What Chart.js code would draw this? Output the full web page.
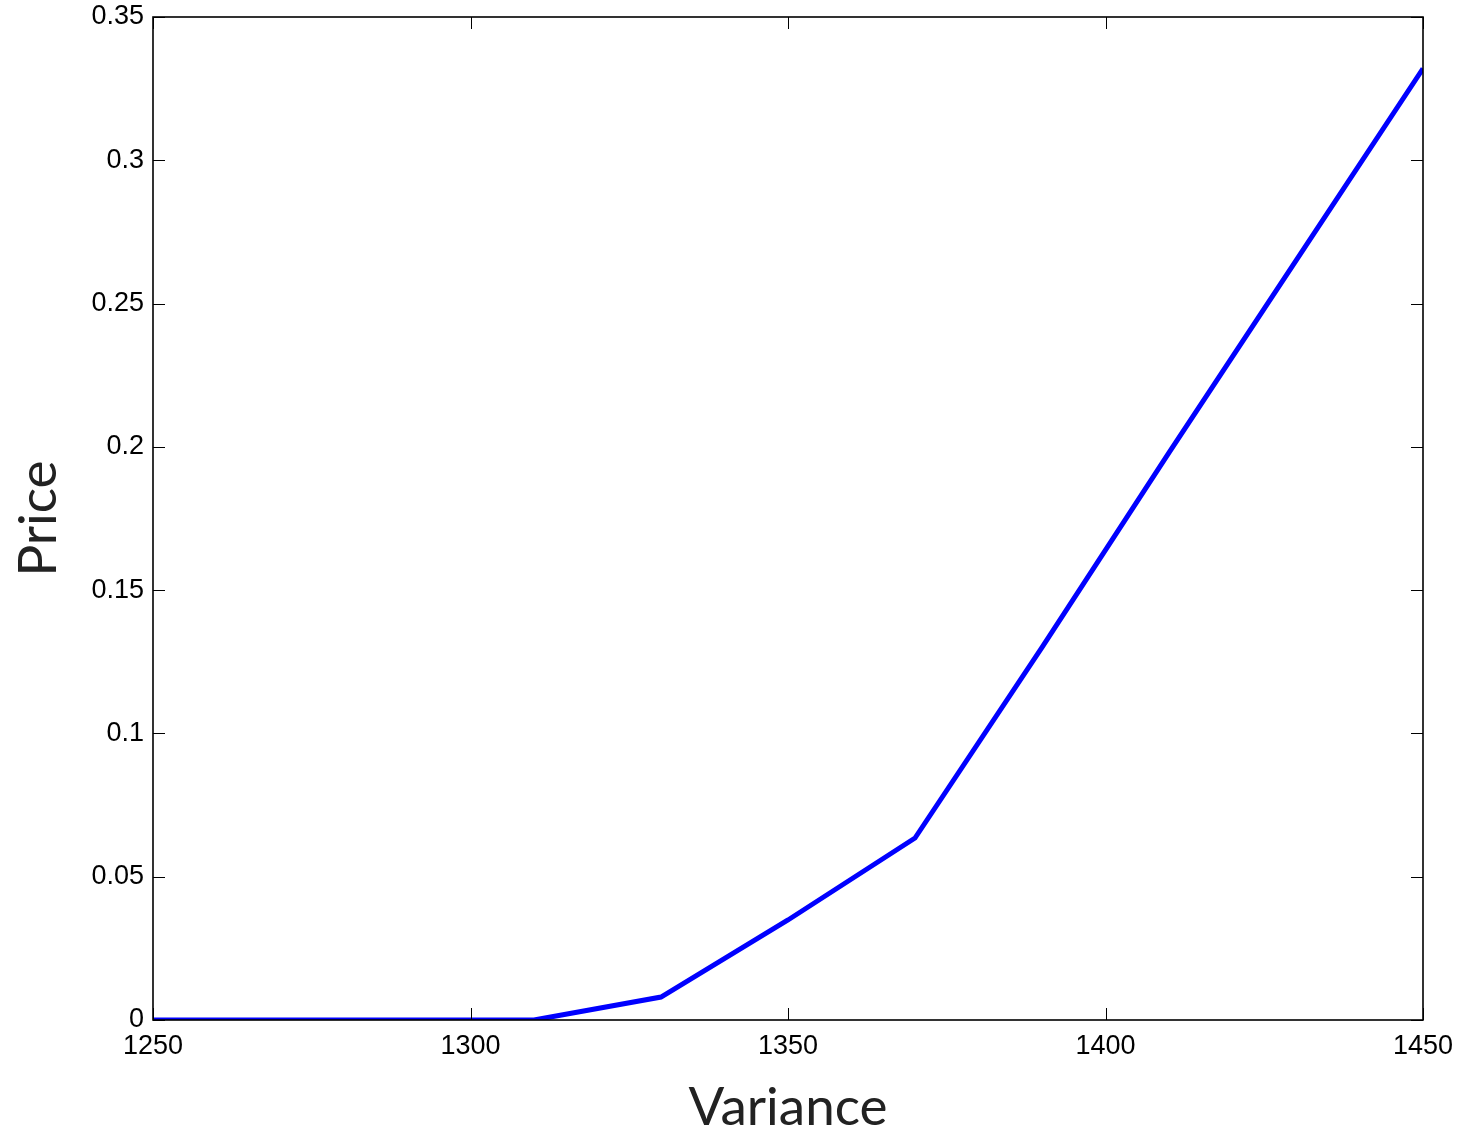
<!DOCTYPE html>
<html>
<head>
<meta charset="utf-8">
<script src="https://cdn.jsdelivr.net/npm/chart.js@4"></script>
<style>
  html, body { margin: 0; padding: 0; background: #fff; }
  canvas { display: block; }
</style>
</head>
<body>
<canvas id="chart" width="1460" height="1134"></canvas>
<script>
// Data
const variance = [1250, 1270, 1290, 1310, 1330, 1350, 1370, 1390, 1410, 1430, 1450];
const price = [0, 0, 0, 0, 0.008, 0.0349, 0.0635, 0.130, 0.198, 0.265, 0.332];
const xTicks = [1250, 1300, 1350, 1400, 1450];
const yTicks = [0, 0.05, 0.1, 0.15, 0.2, 0.25, 0.3, 0.35];
const yTickLabels = ["0", "0.05", "0.1", "0.15", "0.2", "0.25", "0.3", "0.35"];

// Box around the plot with inward ticks on all four sides
const frameTicks = {
  id: "frameTicks",
  afterDraw(chart) {
    const { ctx, chartArea: a, scales } = chart;
    const len = 12;
    ctx.save();
    ctx.strokeStyle = "#000";
    ctx.lineWidth = 1;
    ctx.beginPath();
    xTicks.forEach((v) => {
      const px = Math.round(scales.x.getPixelForValue(v)) + 0.5;
      ctx.moveTo(px, a.bottom);
      ctx.lineTo(px, a.bottom - len);
      ctx.moveTo(px, a.top);
      ctx.lineTo(px, a.top + len);
    });
    yTicks.forEach((v) => {
      const py = Math.round(scales.y.getPixelForValue(v)) + 0.5;
      ctx.moveTo(a.left, py);
      ctx.lineTo(a.left + len, py);
      ctx.moveTo(a.right, py);
      ctx.lineTo(a.right - len, py);
    });
    ctx.stroke();
    ctx.lineWidth = 1.6;
    ctx.strokeRect(a.left, a.top, a.right - a.left, a.bottom - a.top);
    ctx.restore();
  },
};

const ctx = document.getElementById("chart").getContext("2d");
new Chart(ctx, {
  type: "line",
  data: {
    datasets: [
      {
        data: variance.map((v, i) => ({ x: v, y: price[i] })),
        borderColor: "#0000ff",
        borderWidth: 5,
        pointRadius: 0,
        tension: 0,
        fill: false,
      },
    ],
  },
  options: {
    responsive: false,
    animation: false,
    layout: { padding: { top: 17, right: 37, left: 0, bottom: 0 } },
    plugins: {
      legend: { display: false },
      tooltip: { enabled: false },
    },
    scales: {
      x: {
        type: "linear",
        min: 1250,
        max: 1450,
        afterBuildTicks: (s) => {
          s.ticks = xTicks.map((v) => ({ value: v }));
        },
        afterFit: (s) => {
          s.height = 114;
          s.paddingLeft = 0;
          s.paddingRight = 0;
        },
        grid: { display: false, drawTicks: false },
        border: { display: false },
        ticks: {
          padding: 10,
          color: "#000",
          maxRotation: 0,
          font: { family: "Liberation Sans", size: 27 },
          callback: (v) => String(v),
        },
        title: {
          display: true,
          text: "Variance",
          color: "#222",
          padding: { top: 0, bottom: 0 },
          font: { family: "Lato", size: 53, lineHeight: 1 },
        },
      },
      y: {
        type: "linear",
        min: 0,
        max: 0.35,
        afterBuildTicks: (s) => {
          s.ticks = yTicks.map((v) => ({ value: v }));
        },
        afterFit: (s) => {
          s.width = 153;
          s.paddingTop = 0;
          s.paddingBottom = 0;
        },
        grid: { display: false, drawTicks: false },
        border: { display: false },
        ticks: {
          padding: 9,
          color: "#000",
          font: { family: "Liberation Sans", size: 27 },
          callback: (v) => yTickLabels[yTicks.indexOf(v)] ?? "",
        },
        title: {
          display: true,
          text: "Price",
          color: "#222",
          padding: { top: 12, bottom: 0 },
          font: { family: "Lato", size: 53, lineHeight: 1 },
        },
      },
    },
  },
  plugins: [frameTicks],
});
</script>
</body>
</html>
